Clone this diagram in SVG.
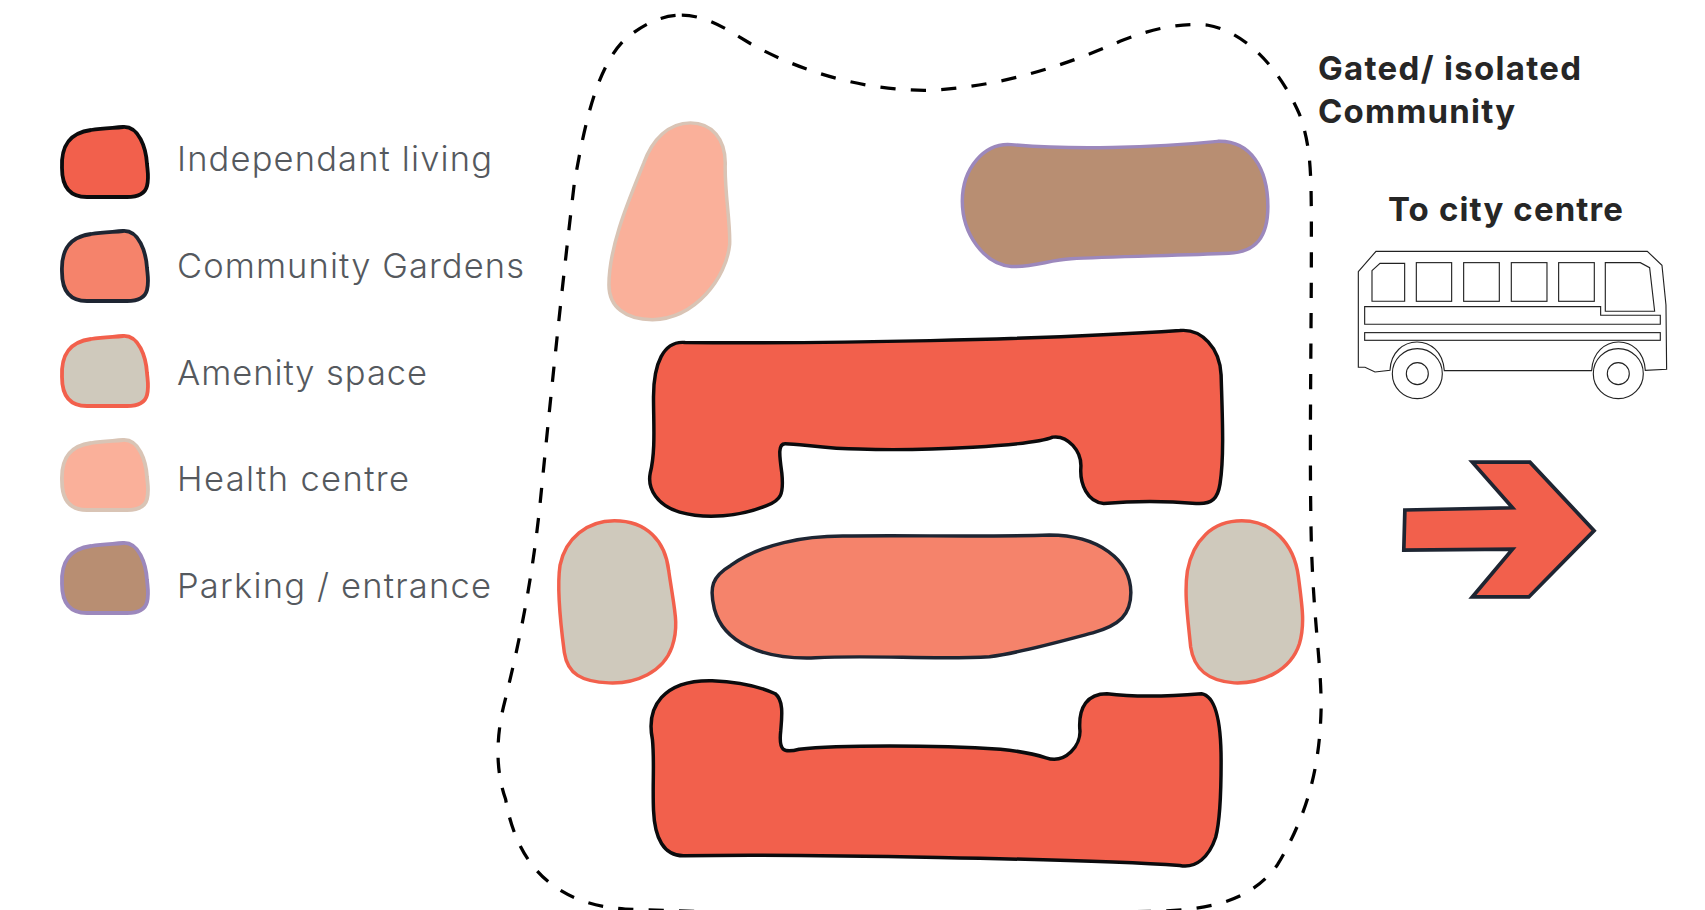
<svg xmlns="http://www.w3.org/2000/svg" xmlns:xlink="http://www.w3.org/1999/xlink" width="1705" height="910" viewBox="0 0 1705 910">
<style>
.lbl{font-family:Inter,"Open Sans","Liberation Sans",sans-serif;font-size:34.5px;font-weight:300;fill:#55595e}
.ttl{font-family:Inter,"Open Sans","Liberation Sans",sans-serif;font-size:33px;font-weight:700;fill:#262626}
.il{fill:#F2604C;stroke:#0b0b0d;stroke-linejoin:round}
.cg{fill:#F5836B;stroke:#1e2532;stroke-linejoin:round}
.am{fill:#CFC9BC;stroke:#F2604C;stroke-linejoin:round}
.hc{fill:#FAB09A;stroke:#D9C4B5;stroke-linejoin:round}
.pk{fill:#B88E72;stroke:#9C88BC;stroke-linejoin:round}
.sw{stroke-width:3.8px}
.main{stroke-width:3.2px}
.bus{fill:none;stroke:#222;stroke-width:3.4px;stroke-linejoin:miter}
</style>
<defs>
<path id="blob" d="M1,42 C0,20 8,7 30,4 C42,2 52,2 62,1 C78,0 85,22 86,38 C87,48 88,52 86,60 C84,68 76,71 66,71 L26,71 C10,71 1,62 1,42 Z"/>
</defs>
<rect width="1705" height="910" fill="#fff"/>
<g id="legend">
<g id="legend-independent"><use xlink:href="#blob" href="#blob" x="61" y="126" class="il sw"/><text x="177" y="171" class="lbl" textLength="315">Independant living</text></g>
<g id="legend-gardens"><use xlink:href="#blob" href="#blob" x="61" y="230" class="cg sw"/><text x="177" y="278" class="lbl" textLength="347">Community Gardens</text></g>
<g id="legend-amenity"><use xlink:href="#blob" href="#blob" x="61" y="335" class="am sw"/><text x="177" y="385" class="lbl" textLength="250">Amenity space</text></g>
<g id="legend-health"><use xlink:href="#blob" href="#blob" x="61" y="439" class="hc sw"/><text x="177" y="491" class="lbl" textLength="232">Health centre</text></g>
<g id="legend-parking"><use xlink:href="#blob" href="#blob" x="61" y="542" class="pk sw"/><text x="177" y="598" class="lbl" textLength="314">Parking / entrance</text></g>
</g>
<g id="plan" transform="scale(1.08737)">
<path id="boundary" fill="none" stroke="#000" stroke-width="3" stroke-dasharray="14 14" d="M627,14 C650,14 670,28 690,40 C740,68 800,84 855,83 C920,80 980,60 1030,38 C1060,26 1085,21 1110,23 C1150,30 1180,70 1195,105 C1206,135 1206,160 1206,220 C1206,320 1204,420 1206,500 C1208,570 1215,610 1215,650 C1214,700 1205,745 1175,795 C1150,830 1110,837 1060,838 C900,842 720,842 575,836 C510,832 475,795 465,735 C456,710 456,680 463,650 C478,590 490,530 497,460 C505,380 515,280 528,170 C538,110 550,60 575,36 C592,22 608,14 627,14 Z"/>
<g id="health-centre"><path class="hc main" d="M635,113 C655,113 667,128 667,150 C666,175 672,205 671,225 C668,255 640,293 600,294 C575,294 560,282 560,262 C560,225 580,180 592,150 C600,128 615,113 635,113 Z"/></g>
<g id="parking"><path class="pk main" d="M930,133 C985,138 1060,136 1120,130 C1150,129 1166,155 1166,190 C1166,218 1155,232 1130,233 C1085,235 1020,236 985,238 C965,239 950,246 930,245 C905,243 885,215 885,185 C885,155 905,131 930,133 Z"/></g>
<g id="independent-top"><path class="il main" d="M630,315 C760,316 950,313 1085,304 C1105,302 1122,320 1123,345 C1124,380 1126,420 1122,445 C1120,458 1115,464 1100,463 C1075,461 1040,461 1015,463 C1000,462 993,445 994,430 C995,415 982,400 968,402 C950,410 850,415 790,413 C760,413 735,408 722,408 C715,408 717,420 719,435 C721,455 718,460 705,465 C680,475 650,478 625,471 C605,465 595,450 598,435 C603,415 601,390 601,365 C601,335 610,313 630,315 Z"/></g>
<g id="gardens"><path class="cg main" d="M775,493 C830,492 910,494 965,492 C1010,492 1040,515 1040,545 C1040,565 1030,575 1005,582 C975,590 940,600 910,604 C860,607 800,602 750,605 C700,607 665,590 657,560 C652,540 655,530 672,520 C700,500 740,493 775,493 Z"/></g>
<g id="amenity-left"><path class="am main" d="M565,479 C595,479 612,498 615,525 C620,560 625,575 618,595 C610,618 585,629 560,628 C535,627 522,620 519,600 C515,570 512,540 515,520 C520,495 540,479 565,479 Z"/></g>
<g id="amenity-right"><path class="am main" d="M1142,479 C1170,479 1190,500 1194,530 C1198,560 1200,575 1195,592 C1187,617 1160,629 1135,628 C1110,626 1098,615 1095,595 C1092,565 1089,545 1092,525 C1097,497 1115,479 1142,479 Z"/></g>
<g id="independent-bottom"><path class="il main" d="M655,626 C680,627 700,632 713,638 C721,644 719,660 718,672 C716,690 720,693 735,689 C770,685 860,685 920,689 C940,691 950,693 962,697 C980,703 995,685 993,670 C992,650 1000,638 1018,638 C1050,642 1080,640 1105,638 C1118,640 1123,665 1123,700 C1123,730 1122,755 1118,770 C1112,788 1100,799 1085,796 C1000,790 730,785 630,787 C610,788 602,770 601,745 C600,720 602,700 600,680 C594,650 610,625 655,626 Z"/></g>
<g id="direction-arrow"><path fill="#F2604C" stroke="#1e2532" stroke-width="3.4" stroke-linejoin="miter" d="M1292,469 L1391,467 L1354,425 L1407,425 L1466,488 L1406,549 L1354,549 L1391,505 L1291,506 Z"/></g>
</g>
<g id="labels">
<text x="1318" y="80" class="ttl" textLength="263">Gated/ isolated</text>
<text x="1318" y="123" class="ttl" textLength="197">Community</text>
<text x="1388" y="221" class="ttl" textLength="235">To city centre</text>
</g>
<g id="bus" transform="translate(1300 30) scale(.3333)" class="bus">
<path d="M175,725 L228,664 L1042,664 L1086,706 L1098,825 L1100,1018 L1036,1021 C1030,905 880,910 875,1022 L433,1022 C425,905 275,910 270,1021 L225,1026 L195,1012 L175,1012 Z"/>
<path d="M216,722 L240,700 L314,700 L314,814 L216,814 Z"/>
<rect x="349" y="698" width="106" height="116"/>
<rect x="491" y="698" width="107" height="116"/>
<rect x="634" y="698" width="107" height="116"/>
<rect x="776" y="698" width="107" height="116"/>
<path d="M916,698 L1021,698 L1049,713 L1064,844 L916,844 Z"/>
<path d="M194,830 L902,830 L902,856 L1081,856 L1081,883 L194,883 Z"/>
<rect x="194" y="908" width="887" height="23"/>
<circle cx="352" cy="1031" r="75" fill="#fff"/><circle cx="352" cy="1031" r="33"/>
<circle cx="955" cy="1031" r="75" fill="#fff"/><circle cx="955" cy="1031" r="33"/>
</g>
</svg>
